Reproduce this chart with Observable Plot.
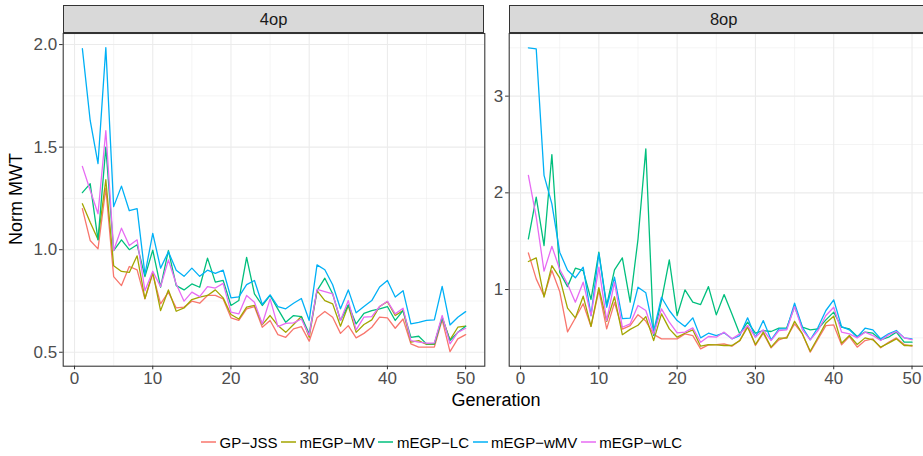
<!DOCTYPE html>
<html>
<head>
<meta charset="utf-8">
<script src="https://cdn.jsdelivr.net/npm/d3@7"></script>
<script src="https://cdn.jsdelivr.net/npm/@observablehq/plot@0.6"></script>
<style>
html, body { margin: 0; padding: 0; background: #fff; overflow: hidden; }
#root { position: relative; width: 923px; height: 456px; overflow: hidden;
  font-family: "Liberation Sans", Arial, Helvetica, sans-serif; background: #fff; }
.panel { position: absolute; top: 0; }
.strip { position: absolute; top: 5.3px; height: 28px; background: #D9D9D9; border: 1.07px solid #333;
  box-sizing: border-box; color: #1A1A1A; font-size: 16.5px; display: flex; align-items: center; justify-content: center; }
.ytitle { position: absolute; left: 16px; top: 199px; transform: translate(-50%, -50%) rotate(-90deg);
  font-size: 18px; color: #000; white-space: nowrap; }
.xtitle { position: absolute; left: 496px; top: 400px; transform: translate(-50%, -50%);
  font-size: 18px; color: #000; white-space: nowrap; }
.legend { position: absolute; left: 201px; top: 441.5px; transform: translateY(-50%); display: flex; align-items: center;
  font-size: 15px; color: #000; white-space: nowrap; }
.legend .item { display: flex; align-items: center; margin-right: 3.5px; }
.legend .item svg { margin-right: 3.5px; }
</style>
</head>
<body>
<div id="root"></div>
<script>
// ---- data ----
const generations = d3.range(1, 51);
const methods = ["GP-JSS", "mEGP-MV", "mEGP-LC", "mEGP-wMV", "mEGP-wLC"];
const methodLabels = ["GP\u2212JSS", "mEGP\u2212MV", "mEGP\u2212LC", "mEGP\u2212wMV", "mEGP\u2212wLC"];
const methodColors = ["#F8766D", "#A3A500", "#00BF7D", "#00B0F6", "#E76BF3"];
const facets = ["4op", "8op"];

// 4op
const jss4 = [1.20,1.045,1.004,1.30,0.869,0.825,0.918,0.902,0.76,0.882,0.736,0.793,0.716,0.72,0.749,0.739,0.777,0.777,0.76,0.668,0.655,0.712,0.723,0.622,0.655,0.586,0.573,0.614,0.625,0.554,0.668,0.699,0.671,0.592,0.630,0.57,0.592,0.622,0.671,0.668,0.617,0.662,0.541,0.525,0.525,0.525,0.658,0.503,0.565,0.586];
const mv4 = [1.224,1.134,1.05,1.341,0.922,0.894,0.889,0.97,0.762,0.89,0.703,0.804,0.70,0.716,0.757,0.769,0.777,0.804,0.765,0.684,0.662,0.72,0.728,0.635,0.679,0.630,0.597,0.635,0.674,0.573,0.80,0.752,0.736,0.627,0.728,0.597,0.635,0.658,0.723,0.747,0.679,0.703,0.549,0.557,0.538,0.538,0.671,0.56,0.622,0.627];
const lc4 = [1.278,1.322,1.048,1.50,0.996,1.048,1.0,1.024,0.869,0.998,0.817,0.996,0.825,0.804,0.833,0.817,0.959,0.842,0.85,0.728,0.752,0.963,0.785,0.728,0.777,0.71,0.646,0.679,0.674,0.59,0.80,0.861,0.785,0.655,0.731,0.638,0.69,0.703,0.712,0.723,0.655,0.703,0.573,0.578,0.541,0.541,0.668,0.557,0.597,0.627];
const wmv4 = [1.98,1.63,1.42,1.985,1.21,1.31,1.19,1.20,0.88,1.08,0.91,0.99,0.90,0.87,0.91,0.87,0.90,0.885,0.90,0.765,0.77,0.83,0.85,0.733,0.78,0.723,0.712,0.739,0.762,0.655,0.926,0.902,0.829,0.712,0.804,0.692,0.723,0.752,0.818,0.85,0.769,0.80,0.638,0.646,0.655,0.658,0.821,0.633,0.671,0.698];
const wlc4 = [1.406,1.29,1.175,1.58,0.996,1.105,1.02,1.048,0.80,0.895,0.82,0.95,0.833,0.749,0.793,0.771,0.82,0.813,0.836,0.696,0.687,0.777,0.744,0.638,0.760,0.625,0.641,0.643,0.662,0.582,0.806,0.796,0.785,0.655,0.752,0.609,0.671,0.674,0.723,0.749,0.687,0.715,0.557,0.549,0.544,0.546,0.679,0.541,0.597,0.617];

// 8op
const jss8 = [1.378,1.11,0.933,1.196,0.98,0.562,0.705,0.853,0.618,0.99,0.593,0.865,0.59,0.627,0.74,0.674,0.536,0.49,0.49,0.49,0.541,0.524,0.386,0.428,0.431,0.438,0.414,0.472,0.627,0.421,0.548,0.397,0.48,0.507,0.645,0.541,0.352,0.49,0.627,0.634,0.428,0.514,0.404,0.472,0.49,0.397,0.455,0.5,0.431,0.414];
const mv8 = [1.29,1.328,0.921,1.248,1.12,0.807,0.707,0.931,0.618,1.02,0.67,0.925,0.533,0.588,0.631,0.72,0.472,0.748,0.593,0.507,0.548,0.583,0.414,0.431,0.428,0.421,0.421,0.472,0.610,0.431,0.559,0.404,0.497,0.497,0.672,0.541,0.362,0.507,0.655,0.724,0.445,0.524,0.431,0.5,0.48,0.404,0.445,0.49,0.421,0.421];
const lc8 = [1.524,1.955,1.455,2.396,1.18,1.03,1.221,1.196,0.897,1.386,0.835,1.203,1.328,0.869,1.52,2.455,0.524,0.887,1.307,0.731,0.997,0.869,0.845,1.03,0.738,0.948,0.748,0.541,0.662,0.548,0.576,0.566,0.6,0.604,0.824,0.61,0.583,0.593,0.686,0.766,0.61,0.593,0.514,0.559,0.548,0.48,0.507,0.559,0.455,0.455];
const wmv8 = [3.5,3.49,2.18,1.886,1.386,1.2,1.121,1.231,0.73,1.375,0.817,1.127,0.7,0.705,1.024,0.966,0.569,0.92,0.783,0.679,0.617,0.707,0.5,0.548,0.524,0.552,0.49,0.524,0.707,0.507,0.679,0.480,0.593,0.593,0.859,0.610,0.480,0.610,0.783,0.893,0.617,0.583,0.507,0.600,0.583,0.49,0.541,0.576,0.5,0.49];
const wlc8 = [2.18,1.75,1.19,1.447,1.21,1.058,0.869,1.076,0.731,1.231,0.679,1.076,0.610,0.645,0.835,0.783,0.541,0.8,0.662,0.552,0.559,0.604,0.455,0.514,0.507,0.559,0.49,0.541,0.627,0.507,0.583,0.472,0.576,0.583,0.824,0.583,0.48,0.576,0.731,0.817,0.559,0.541,0.5,0.559,0.524,0.472,0.531,0.566,0.5,0.483];

// axis ticks
const xTicks = [0, 10, 20, 30, 40, 50];
const xMinorTicks = [5, 15, 25, 35, 45];
const yTicks4 = [0.5, 1.0, 1.5, 2.0];
const yTickLabels4 = ["0.5", "1.0", "1.5", "2.0"];
const yMinorTicks4 = [0.75, 1.25, 1.75];
const yTicks8 = [1, 2, 3];
const yTickLabels8 = ["1", "2", "3"];
const yMinorTicks8 = [0.5, 1.5, 2.5, 3.5];

// ---- build tidy tables ----
function tidy(seriesList) {
  const rows = [];
  seriesList.forEach((vals, i) => {
    vals.forEach((v, j) => rows.push({gen: generations[j], value: v, method: methods[i]}));
  });
  return rows;
}
const data4 = tidy([jss4, mv4, lc4, wmv4, wlc4]);
const data8 = tidy([jss8, mv8, lc8, wmv8, wlc8]);

const xDomain = [-1.45, 52.45];
const gridCol = "#EBEBEB";

function panel({data, yDomain, yTicks, yLabels, yMinor, width, ml, mr}) {
  return Plot.plot({
    width, height: 400,
    marginLeft: ml, marginRight: mr, marginTop: 33, marginBottom: 34.3,
    x: {domain: xDomain},
    y: {domain: yDomain},
    color: {domain: methods, range: methodColors},
    style: {fontFamily: '"Liberation Sans", Arial, Helvetica, sans-serif', fontSize: "17px", background: "transparent", overflow: "visible"},
    marks: [
      Plot.ruleX(xMinorTicks, {x: d => d, stroke: gridCol, strokeWidth: 0.55}),
      Plot.ruleY(yMinor, {y: d => d, stroke: gridCol, strokeWidth: 0.55}),
      Plot.ruleX(xTicks, {x: d => d, stroke: gridCol, strokeWidth: 1.07}),
      Plot.ruleY(yTicks, {y: d => d, stroke: gridCol, strokeWidth: 1.07}),
      Plot.line(data, {x: "gen", y: "value", z: "method", stroke: "method", strokeWidth: 1.3, strokeLinejoin: "round"}),
      Plot.frame({stroke: "#333", strokeWidth: 1.07}),
      Plot.axisX({ticks: xTicks, tickSize: 3.6, tickPadding: 2.5, fill: "#4D4D4D", stroke: "#333", fontSize: 17, label: null, tickFormat: d => String(d)}),
      Plot.axisY({ticks: yTicks, tickSize: 3.6, tickPadding: 2.5, fill: "#4D4D4D", stroke: "#333", fontSize: 17, label: null,
        tickFormat: d => yLabels[yTicks.indexOf(d)]})
    ]
  });
}

const root = document.getElementById("root");

const left = panel({data: data4, yDomain: [0.432, 2.054], yTicks: yTicks4, yLabels: yTickLabels4, yMinor: yMinorTicks4,
  width: 490, ml: 62.7, mr: 5.7});
left.classList.add("panel"); left.style.left = "0px";
root.appendChild(left);

const right = panel({data: data8, yDomain: [0.207, 3.648], yTicks: yTicks8, yLabels: yTickLabels8, yMinor: yMinorTicks8,
  width: 445, ml: 18.7, mr: 4.3});
right.classList.add("panel"); right.style.left = "490px";
root.appendChild(right);

// strips
[[facets[0], 62.7, 421.8], [facets[1], 508.7, 430]].forEach(([t, x, w]) => {
  const s = document.createElement("div");
  s.className = "strip"; s.style.left = x + "px"; s.style.width = w + "px"; s.textContent = t;
  root.appendChild(s);
});

// titles
const yt = document.createElement("div"); yt.className = "ytitle"; yt.textContent = "Norm MWT"; root.appendChild(yt);
const xt = document.createElement("div"); xt.className = "xtitle"; xt.textContent = "Generation"; root.appendChild(xt);

// legend
const lg = document.createElement("div"); lg.className = "legend";
methods.forEach((m, i) => {
  const it = document.createElement("div"); it.className = "item";
  const ns = "http://www.w3.org/2000/svg";
  const sv = document.createElementNS(ns, "svg"); sv.setAttribute("width", 15); sv.setAttribute("height", 17);
  const ln = document.createElementNS(ns, "line");
  ln.setAttribute("x1", 0); ln.setAttribute("x2", 15); ln.setAttribute("y1", 8.5); ln.setAttribute("y2", 8.5);
  ln.setAttribute("stroke", methodColors[i]); ln.setAttribute("stroke-width", 1.3);
  sv.appendChild(ln);
  const tx = document.createElement("span"); tx.textContent = methodLabels[i];
  it.appendChild(sv); it.appendChild(tx); lg.appendChild(it);
});
root.appendChild(lg);
</script>
</body>
</html>
